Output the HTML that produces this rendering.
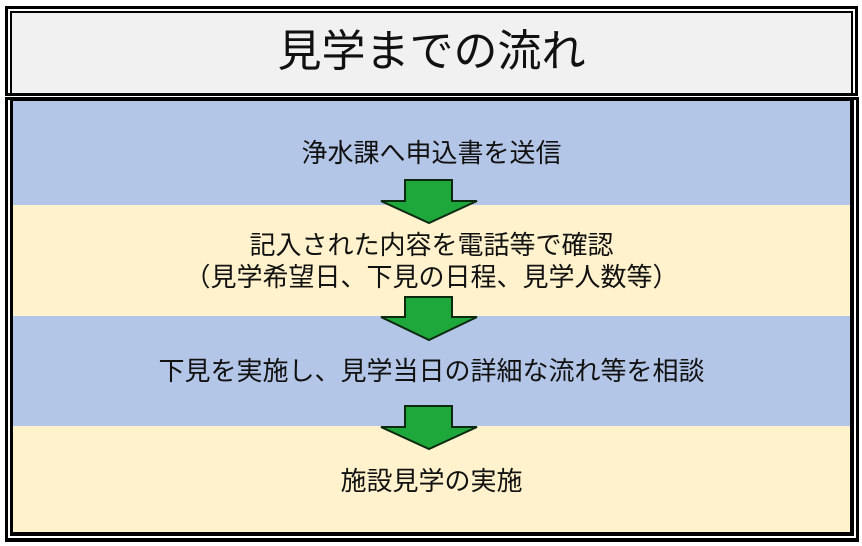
<!DOCTYPE html>
<html><head><meta charset="utf-8"><style>
html,body{margin:0;padding:0;background:#fff;}
body{width:862px;height:546px;position:relative;overflow:hidden;font-family:"Liberation Sans","Noto Sans CJK JP",sans-serif;color:#111;}
.a{position:absolute;}
.t{position:absolute;left:13px;width:837px;text-align:center;white-space:nowrap;}
</style></head><body>
<div class="a" style="left:5px;top:6px;width:853px;height:90px;background:#000;"></div>
<div class="a" style="left:8px;top:9px;width:847px;height:84px;background:#fff;"></div>
<div class="a" style="left:10px;top:11px;width:843px;height:82px;background:#000;"></div>
<div class="a" style="left:12px;top:13px;width:839px;height:80px;background:#f1f1f1;"></div>
<div class="t" style="top:26px;font-size:44px;line-height:52px;">見学までの流れ</div>
<div class="a" style="left:5px;top:97px;width:854px;height:445px;background:#000;"></div>
<div class="a" style="left:8px;top:100px;width:848px;height:438px;background:#fff;"></div>
<div class="a" style="left:10px;top:100px;width:844px;height:436px;background:#000;"></div>
<div class="a" style="left:13px;top:101px;width:837px;height:104px;background:#b4c6e7;"></div>
<div class="a" style="left:13px;top:205px;width:837px;height:111px;background:#fff2cc;"></div>
<div class="a" style="left:13px;top:316px;width:837px;height:110px;background:#b4c6e7;"></div>
<div class="a" style="left:13px;top:426px;width:837px;height:106px;background:#fff2cc;"></div>
<div class="t" style="top:137px;font-size:26px;line-height:32px;">浄水課へ申込書を送信</div>
<div class="t" style="top:229px;font-size:26px;line-height:32px;">記入された内容を電話等で確認<br>（見学希望日、下見の日程、見学人数等）</div>
<div class="t" style="top:355px;font-size:26px;line-height:32px;">下見を実施し、見学当日の詳細な流れ等を相談</div>
<div class="t" style="top:465px;font-size:26px;line-height:32px;">施設見学の実施</div>
<svg class="a" style="left:0;top:0" width="862" height="546">
<g fill="#1ea83c" stroke="#0b2a10" stroke-width="2" stroke-linejoin="miter">
<polygon points="405,180 452,180 452,201 477,201 429,223 381,201 405,201"/>
<polygon points="405,297 452,297 452,317 477,317 429,340 381,317 405,317"/>
<polygon points="405,406 452,406 452,427 477,427 429,449 381,427 405,427"/>
</g></svg>
</body></html>
